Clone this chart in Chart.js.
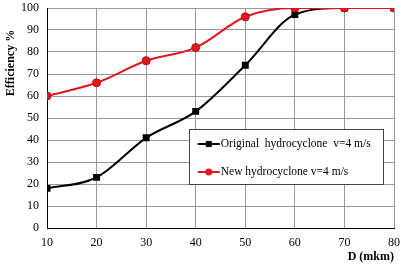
<!DOCTYPE html>
<html>
<head>
<meta charset="utf-8">
<script src="https://cdn.jsdelivr.net/npm/chart.js@4"></script>
<style>
  html, body { margin: 0; padding: 0; background: #fff; }
  #wrap { width: 402px; height: 264px; }
</style>
</head>
<body>
<div id="wrap"><canvas id="myChart" width="402" height="264"></canvas></div>
<script>
const diameters = [10, 20, 30, 40, 50, 60, 70, 80];
const originalEff = [18, 23, 41, 53, 74, 97, 100, 100];
const newEff = [60, 66, 76, 82, 96, 100, 100, 100];
const seriesNames = ['Original  hydrocyclone  v=4 m/s', 'New hydrocyclone v=4 m/s'];
const yTitle = 'Efficiency %';
const xTitle = 'D (mkm)';

const serif = 'Liberation Serif, Times New Roman, serif';

const toPoints = (vals) => vals.map((v, i) => ({ x: diameters[i], y: v }));

// legend box drawn inside the plot, like the original
const boxLegend = {
  id: 'boxLegend',
  afterDraw(chart) {
    const ctx = chart.ctx;
    const xs = chart.scales.x, ys = chart.scales.y;
    const left = xs.getPixelForValue(38.6), right = xs.getPixelForValue(77.8);
    const top = ys.getPixelForValue(45), bottom = ys.getPixelForValue(20);
    ctx.save();
    ctx.fillStyle = '#fff';
    ctx.fillRect(left, top, right - left, bottom - top);
    ctx.strokeStyle = '#444';
    ctx.lineWidth = 1;
    ctx.strokeRect(Math.round(left) + 0.5, Math.round(top) + 0.5, Math.round(right - left), Math.round(bottom - top));
    chart.data.datasets.forEach((ds, i) => {
      const y = top + 15 + i * 28;
      const x0 = left + 9;
      ctx.strokeStyle = ds.borderColor;
      ctx.lineWidth = 2;
      ctx.beginPath();
      ctx.moveTo(x0, y);
      ctx.lineTo(x0 + 22, y);
      ctx.stroke();
      ctx.fillStyle = ds.pointBackgroundColor;
      if (ds.pointStyle === 'rect') {
        ctx.fillRect(x0 + 8, y - 3, 6, 6);
      } else {
        ctx.beginPath();
        ctx.arc(x0 + 11, y, 3.5, 0, Math.PI * 2);
        ctx.fill();
      }
      ctx.fillStyle = '#000';
      ctx.font = '11.5px ' + serif;
      ctx.textBaseline = 'middle';
      ctx.fillText(ds.label, x0 + 23, y);
    });
    ctx.restore();
  }
};

// y title sits a bit above the middle in the original
const yLabel = {
  id: 'yLabel',
  afterDraw(chart) {
    const ctx = chart.ctx;
    ctx.save();
    ctx.translate(11, 63);
    ctx.rotate(-Math.PI / 2);
    ctx.fillStyle = '#000';
    ctx.font = 'bold 12px ' + serif;
    ctx.textAlign = 'center';
    ctx.textBaseline = 'middle';
    ctx.fillText(yTitle, 0, 0);
    ctx.restore();
  }
};

const config = {
  type: 'line',
  data: {
    datasets: [
      {
        label: seriesNames[0],
        data: toPoints(originalEff),
        borderColor: '#000',
        backgroundColor: '#000',
        pointBackgroundColor: '#000',
        pointBorderColor: '#000',
        pointStyle: 'rect',
        pointRadius: 3.5,
        borderWidth: 2,
        cubicInterpolationMode: 'monotone',
        order: 2
      },
      {
        label: seriesNames[1],
        data: toPoints(newEff),
        borderColor: '#e0171f',
        backgroundColor: '#e0171f',
        pointBackgroundColor: '#e0171f',
        pointBorderColor: '#b01018',
        pointBorderWidth: 1,
        pointStyle: 'circle',
        pointRadius: 4,
        borderWidth: 2,
        cubicInterpolationMode: 'monotone',
        order: 1
      }
    ]
  },
  options: {
    responsive: false,
    animation: false,
    layout: { padding: { left: 13, right: 8, top: 8, bottom: 0 } },
    plugins: {
      legend: { display: false },
      tooltip: { enabled: false }
    },
    scales: {
      x: {
        type: 'linear',
        min: 10, max: 80,
        afterFit(scale) {
          scale.height = 36;
          scale.paddingLeft = 0;
          scale.paddingRight = 0;
        },
        ticks: { stepSize: 10, color: '#000', font: { family: serif, size: 12 }, padding: 8, maxRotation: 0 },
        grid: { color: '#999', drawTicks: false },
        border: { color: '#000' },
        title: { display: true, text: xTitle, align: 'end', color: '#000', font: { family: serif, size: 12, weight: 'bold' }, padding: { top: 0, bottom: 0 } }
      },
      y: {
        min: 0, max: 100,
        afterFit(scale) {
          scale.paddingTop = 0;
          scale.paddingBottom = 0;
        },
        ticks: { stepSize: 10, color: '#000', font: { family: serif, size: 12 }, padding: 8 },
        grid: { color: '#999', drawTicks: false },
        border: { color: '#000' }
      }
    }
  },
  plugins: [boxLegend, yLabel]
};

const myChart = new Chart(document.getElementById('myChart'), config);
</script>
</body>
</html>
